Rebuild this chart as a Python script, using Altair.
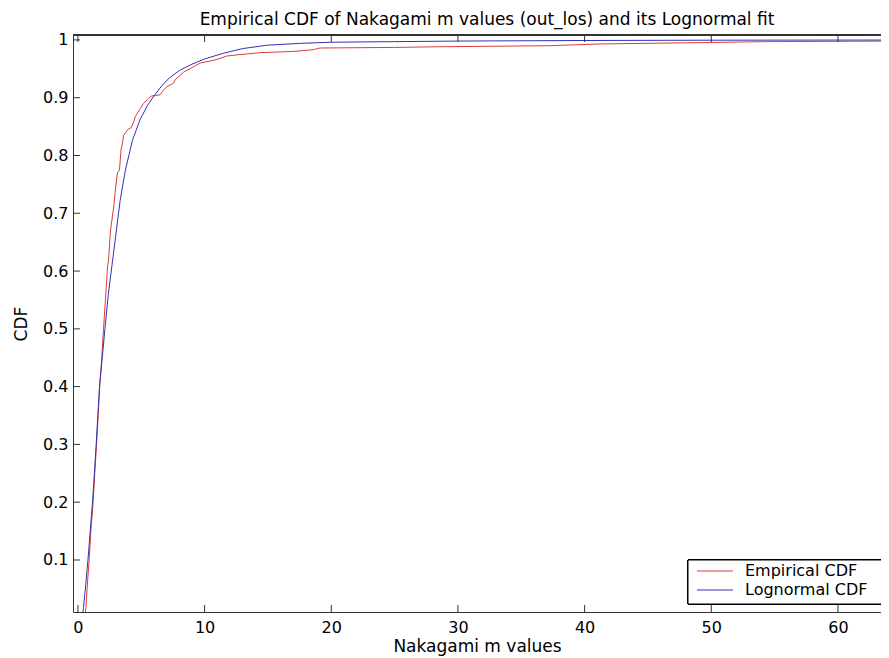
import altair as alt
import pandas as pd

# ---- data ----
emp_x = [0.60, 0.63, 0.75, 0.89, 1.02, 1.20, 1.33, 1.47, 1.60, 1.72, 1.88, 2.02, 2.20, 2.34,
         2.42, 2.55, 2.63, 2.86, 2.95, 3.12, 3.28, 3.40, 3.52, 3.60, 3.99, 4.20, 4.40, 4.52,
         4.86, 5.17, 5.57, 5.83, 6.49, 6.70, 7.02, 7.54, 7.67, 8.33, 9.00, 9.65, 10.96, 11.73,
         12.54, 14.40, 17.00, 18.56, 19.10, 25.00, 28.00, 37.30, 41.20, 48.00, 54.30, 64.00]
emp_y = [0.010, 0.018, 0.060, 0.100, 0.150, 0.200, 0.250, 0.300, 0.350, 0.400, 0.450, 0.500,
         0.560, 0.608, 0.620, 0.665, 0.680, 0.717, 0.740, 0.770, 0.775, 0.810, 0.822, 0.835,
         0.846, 0.848, 0.858, 0.867, 0.879, 0.890, 0.899, 0.903, 0.905, 0.912, 0.919, 0.925,
         0.931, 0.944, 0.952, 0.960, 0.966, 0.972, 0.974, 0.978, 0.980, 0.983, 0.986, 0.987,
         0.988, 0.990, 0.993, 0.995, 0.997, 0.998]

logn_x = [0.40, 0.44, 0.62, 0.79, 0.97, 1.15, 1.30, 1.44, 1.57, 1.70, 1.92, 2.13, 2.40, 2.70,
          3.00, 3.33, 3.75, 4.30, 4.90, 5.50, 6.00, 6.60, 7.20, 8.00, 9.00, 10.0, 11.5, 13.0,
          15.0, 17.5, 20.0, 25.0, 30.0, 40.0, 50.0, 64.0]
logn_y = [0.010, 0.018, 0.058, 0.100, 0.150, 0.200, 0.250, 0.300, 0.350, 0.400, 0.450, 0.500,
          0.560, 0.612, 0.664, 0.722, 0.775, 0.826, 0.862, 0.887, 0.903, 0.920, 0.934, 0.947,
          0.958, 0.967, 0.977, 0.985, 0.991, 0.994, 0.996, 0.997, 0.998, 0.999, 0.9995, 0.9998]

series_names = ["Empirical CDF", "Lognormal CDF"]
series_colors = ["#dc3c3c", "#3232b4"]

x_ticks = [0, 10, 20, 30, 40, 50, 60]
y_ticks = [0.1, 0.2, 0.3, 0.4, 0.5, 0.6, 0.7, 0.8, 0.9, 1.0]

title_text = "Empirical CDF of Nakagami m values (out_los) and its Lognormal fit"
x_title = "Nakagami m values"
y_title = "CDF"

# ---- build tables ----
df = pd.concat([
    pd.DataFrame({"x": emp_x, "y": emp_y, "series": series_names[0], "k": 0}),
    pd.DataFrame({"x": logn_x, "y": logn_y, "series": series_names[1], "k": 1}),
], ignore_index=True)
xt = pd.DataFrame({"t": x_ticks})
yt = pd.DataFrame({"t": y_ticks})

W, H = 808, 577
FONT = "DejaVu Sans"
AX = "#333333"
TL = 7

xscale = alt.Scale(domain=[-0.39, 63.4], nice=False, zero=False)
yscale = alt.Scale(domain=[0.01, 1.0085], nice=False, zero=False)
cscale = alt.Scale(domain=series_names, range=series_colors)

xaxis = alt.Axis(values=x_ticks, format="d", title=x_title, ticks=False, tickSize=0,
                 labelPadding=7, grid=False, domainColor=AX, labelColor="black",
                 labelFontSize=16, titleFontSize=17, titleFontWeight="normal",
                 titleColor="black", titlePadding=3, labelFont=FONT, titleFont=FONT)
yaxis = alt.Axis(values=y_ticks, format="~g", title=y_title, ticks=False, tickSize=0,
                 labelPadding=5, grid=False, domainColor=AX, labelColor="black",
                 labelFontSize=16, titleFontSize=17, titleFontWeight="normal",
                 titleColor="black", titlePadding=12, labelFont=FONT, titleFont=FONT)

lines = alt.Chart(df).mark_line(clip=True, strokeWidth=1).encode(
    x=alt.X("x:Q", scale=xscale, axis=xaxis),
    y=alt.Y("y:Q", scale=yscale, axis=yaxis),
    color=alt.Color("series:N", scale=cscale, legend=None),
    order=alt.Order("k:Q"),
)

xt_bottom = alt.Chart(xt).mark_rule(color=AX, strokeWidth=1).encode(
    x=alt.X("t:Q", scale=xscale, axis=xaxis),
    y=alt.value(H), y2=alt.value(H - TL))
xt_top = alt.Chart(xt).mark_rule(color=AX, strokeWidth=1).encode(
    x=alt.X("t:Q", scale=xscale, axis=xaxis),
    y=alt.value(0), y2=alt.value(TL))
yt_left = alt.Chart(yt).mark_rule(color=AX, strokeWidth=1).encode(
    y=alt.Y("t:Q", scale=yscale, axis=yaxis),
    x=alt.value(0), x2=alt.value(TL))
top_frame = alt.Chart(xt).mark_rule(color=AX, strokeWidth=1).encode(
    x=alt.value(0), x2=alt.value(W), y=alt.value(0))

# ---- legend box (MATLAB style, lower right) ----
LX, LY, ROW = 615, 525, 19
leg_box = alt.Chart(xt).mark_rect(fill="white", stroke="black", strokeWidth=1).encode(
    x=alt.value(LX), x2=alt.value(W + 12), y=alt.value(LY), y2=alt.value(LY + 44))
leg_layers = [leg_box]
for i, name in enumerate(series_names):
    ldf = pd.DataFrame({"series": [name]})
    leg_layers.append(alt.Chart(ldf).mark_rule(strokeWidth=1).encode(
        x=alt.value(LX + 9), x2=alt.value(LX + 45), y=alt.value(LY + 11 + ROW * i),
        color=alt.Color("series:N", scale=cscale, legend=None)))
    leg_layers.append(alt.Chart(ldf).mark_text(
        align="left", baseline="middle", fontSize=16, font=FONT, color="black").encode(
        x=alt.value(LX + 57), y=alt.value(LY + 11 + ROW * i), text="series:N"))

chart = alt.layer(lines, xt_bottom, xt_top, yt_left, top_frame, *leg_layers).properties(
    width=W, height=H,
    title=alt.TitleParams(text=title_text, fontSize=17, fontWeight="normal", font=FONT,
                          color="black", anchor="middle", frame="group",
                          baseline="alphabetic", offset=11, dx=10, dy=21),
    autosize=alt.AutoSizeParams(type="none"),
    padding={"left": 65, "top": 27, "right": 0, "bottom": 46},
).configure_view(stroke=None).configure(background="white")

chart.save("out.html", embed_options={"renderer": "svg", "actions": False})
